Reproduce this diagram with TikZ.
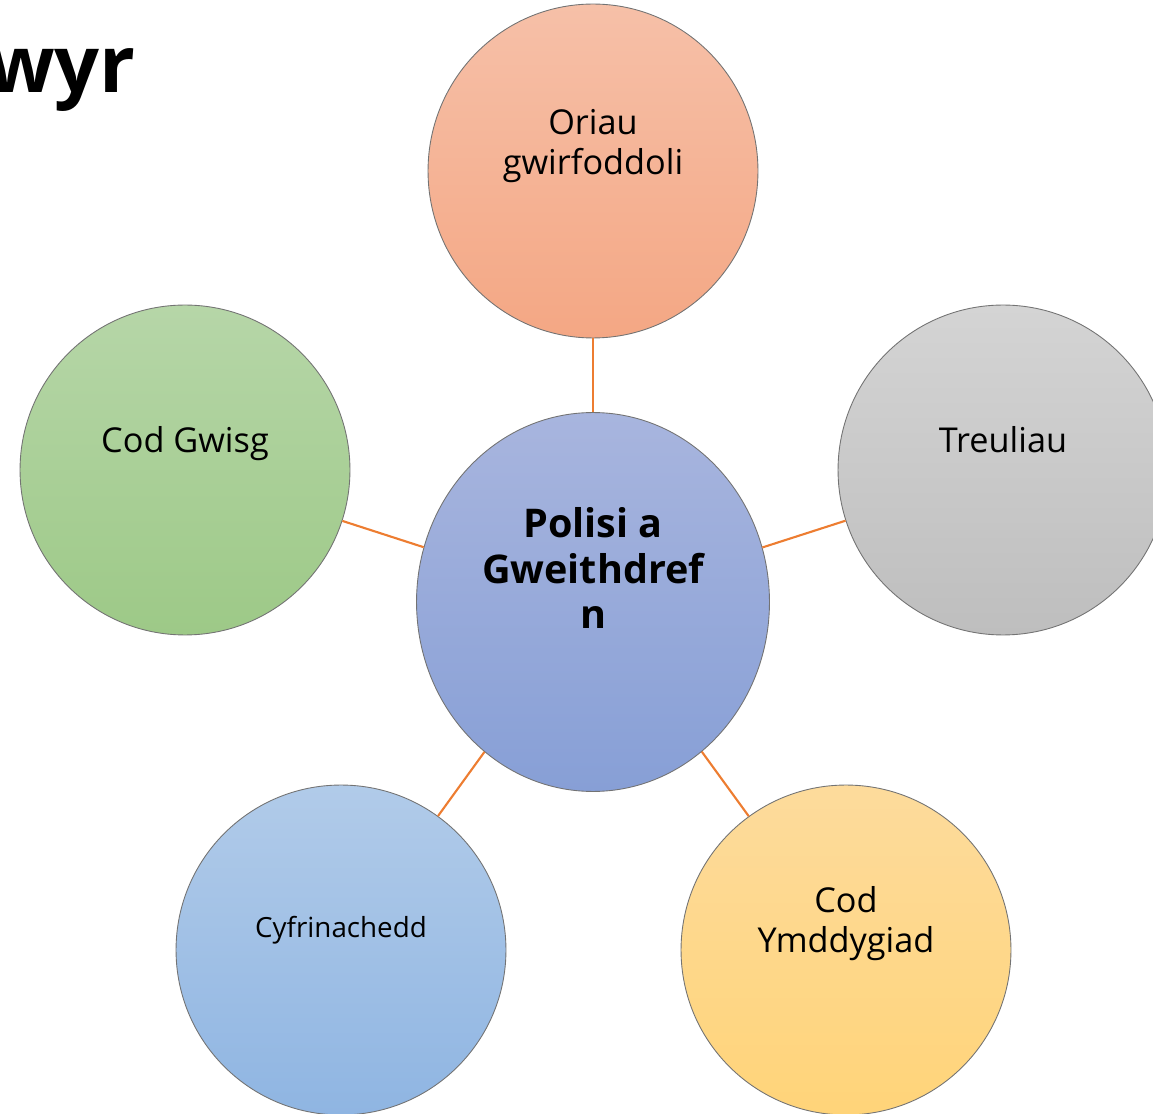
\documentclass[tikz,border=0pt]{standalone}
\usepackage{fontspec}
\setmainfont{Open Sans}
\usetikzlibrary{shapes.geometric}

\definecolor{linkorange}{RGB}{237,125,49}
\definecolor{hubtop}{RGB}{168,181,222}
\definecolor{hubbot}{RGB}{135,159,214}
\definecolor{oriautop}{RGB}{246,192,168}
\definecolor{oriaubot}{RGB}{244,167,132}
\definecolor{gwisgtop}{RGB}{182,214,168}
\definecolor{gwisgbot}{RGB}{157,201,135}
\definecolor{treultop}{RGB}{212,212,212}
\definecolor{treulbot}{RGB}{190,190,190}
\definecolor{cyfrtop}{RGB}{177,203,233}
\definecolor{cyfrbot}{RGB}{143,181,226}
\definecolor{ymddtop}{RGB}{253,219,156}
\definecolor{ymddbot}{RGB}{255,212,121}

\tikzstyle{bubble} = [ellipse, minimum width=6.6cm, minimum height=6.6cm, inner sep=0pt, draw=black!55, line width=0.5pt]
\tikzstyle{lbl} = [align=center, inner sep=0pt, text=black, font=\fontsize{19.5}{22.7}\selectfont]
\tikzstyle{link} = [linkorange, line width=1.2pt]

\begin{document}
\begin{tikzpicture}[x=0.02cm, y=-0.02cm]
			\useasboundingbox (0,0) rectangle (1153,1114);
			\node(title)[anchor=base east, inner sep=0pt, font=\fontsize{45}{50}\selectfont\bfseries] at (136,93) {wyr};
			\node(hub)[bubble, minimum width=7.06cm, minimum height=7.58cm, top color=hubtop, bottom color=hubbot,
				label={[lbl, name=hubtext, font=\fontsize{22.5}{26}\selectfont\bfseries, yshift=0.68cm]center:{Polisi a\\Gweithdref\\n}}] at (593,602) {};
			\node(oriau)[bubble, minimum height=6.68cm, top color=oriautop, bottom color=oriaubot,
				label={[lbl, name=oriautext, yshift=0.5cm]center:{Oriau\\gwirfoddoli}}] at (593,171) {};
			\node(gwisg)[bubble, top color=gwisgtop, bottom color=gwisgbot,
				label={[lbl, name=gwisgtext, yshift=0.52cm]center:{Cod Gwisg}}] at (185,470) {};
			\node(treuliau)[bubble, top color=treultop, bottom color=treulbot,
				label={[lbl, name=treuliautext, yshift=0.6cm]center:{Treuliau}}] at (1003,470) {};
			\node(cyfr)[bubble, top color=cyfrtop, bottom color=cyfrbot,
				label={[lbl, name=cyfrtext, font=\fontsize{15.8}{18}\selectfont, yshift=0.4cm]center:{Cyfrinachedd}}] at (341,950) {};
			\node(ymdd)[bubble, top color=ymddtop, bottom color=ymddbot,
				label={[lbl, name=ymddtext, yshift=0.52cm]center:{Cod\\Ymddygiad}}] at (846,950) {};
			% spokes
			\draw [link] (hub) -- (oriau);
			\draw [link] (hub) -- (gwisg);
			\draw [link] (hub) -- (treuliau);
			\draw [link] (hub) -- (cyfr);
			\draw [link] (hub) -- (ymdd);
		\end{tikzpicture}
\end{document}
